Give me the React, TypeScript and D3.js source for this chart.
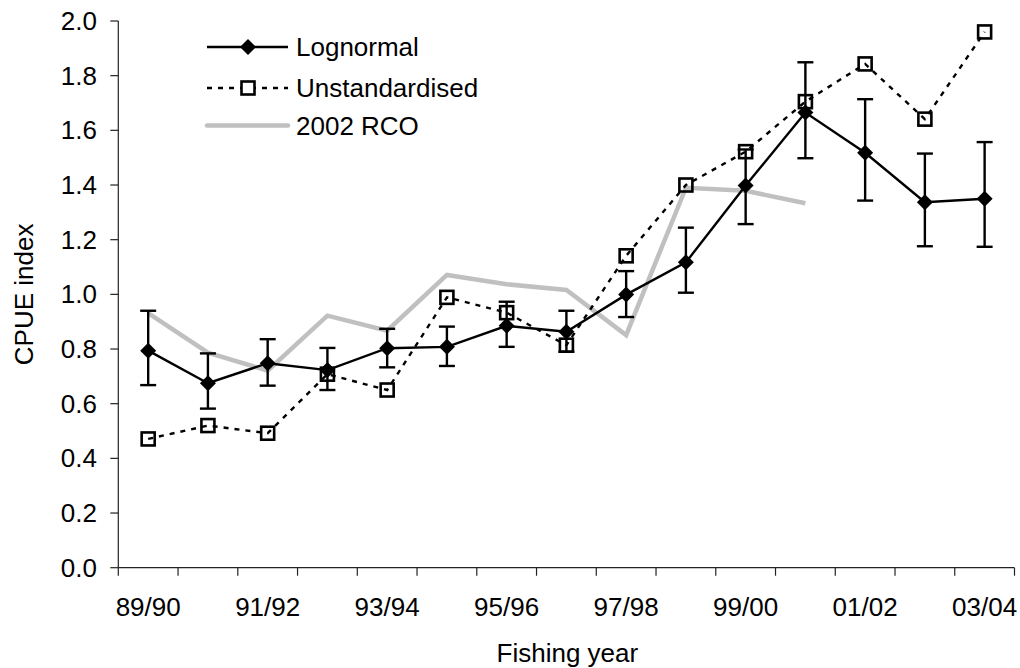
import React from "react";
import * as d3 from "d3";

const categories = ["89/90","90/91","91/92","92/93","93/94","94/95","95/96","96/97","97/98","98/99","99/00","00/01","01/02","02/03","03/04"];
const lognormal = [0.794,0.675,0.748,0.723,0.803,0.808,0.885,0.863,0.999,1.117,1.398,1.665,1.518,1.337,1.350];
const lognormalLower = [0.668,0.582,0.666,0.650,0.733,0.738,0.808,0.790,0.917,1.006,1.257,1.498,1.343,1.176,1.174];
const lognormalUpper = [0.940,0.784,0.836,0.804,0.874,0.882,0.973,0.940,1.085,1.244,1.530,1.849,1.714,1.515,1.557];
const unstandardised = [0.471,0.520,0.492,0.708,0.650,0.989,0.933,0.814,1.141,1.400,1.522,1.705,1.843,1.641,1.960];
const rco2002 = [0.931,0.787,0.721,0.922,0.867,1.071,1.037,1.016,0.851,1.390,1.379,1.333];
const yTicks = [0,0.2,0.4,0.6,0.8,1.0,1.2,1.4,1.6,1.8,2.0];
const legendLabels = ["Lognormal","Unstandardised","2002 RCO"];

const FONT = "'Liberation Sans', Arial, sans-serif";

export default function App() {
  const x = d3.scaleBand<string>().domain(categories).range([118.3, 1014.5]).padding(0);
  const y = d3.scaleLinear().domain([0, 2]).range([567.7, 21]);
  const cx = (i: number) => (x(categories[i]) as number) + x.bandwidth() / 2;

  const lineGen = d3.line<number>().x((_, i) => cx(i)).y((d) => y(d));
  const diamond = (px: number, py: number, r = 8) => `M${px},${py - r}L${px + r},${py}L${px},${py + r}L${px - r},${py}Z`;

  const boundaries = categories.map((c) => x(c) as number).concat([x.range()[1]]);
  const x0 = x.range()[0];
  const x1 = x.range()[1];
  const yb = y(0);

  const legY = [47, 88, 125.5];
  const legX0 = 207, legX1 = 288, legMid = 248, legText = 296;
  const LW = 2.4;

  return (
    <svg width={1020} height={668} style={{ position: "absolute", left: 0, top: 0, background: "#fff" }} fontFamily={FONT}>
      <rect x={0} y={0} width={1020} height={668} fill="#fff" />
      {/* axes */}
      <line x1={x0} x2={x0} y1={y(2)} y2={yb} stroke="#222" strokeWidth={1.2} />
      <line x1={x0} x2={x1} y1={yb} y2={yb} stroke="#222" strokeWidth={1.2} />
      {yTicks.map((t) => (
        <g key={t}>
          <line x1={x0 - 8} x2={x0} y1={y(t)} y2={y(t)} stroke="#222" strokeWidth={1.2} />
          <text x={97} y={y(t)} dy="0.35em" textAnchor="end" fontSize={26} fill="#000">{t.toFixed(1)}</text>
        </g>
      ))}
      {boundaries.map((b, i) => (
        <line key={i} x1={b} x2={b} y1={yb} y2={yb + 8} stroke="#222" strokeWidth={1.2} />
      ))}
      {categories.map((c, i) => i % 2 === 0 ? (
        <text key={c} x={cx(i)} y={616} textAnchor="middle" fontSize={26} fill="#000">{c}</text>
      ) : null)}
      <text x={(x0 + x1) / 2 + 1} y={662} textAnchor="middle" fontSize={26} fill="#000">Fishing year</text>
      <text transform={`translate(33,${(y(2) + yb) / 2}) rotate(-90)`} textAnchor="middle" fontSize={26} fill="#000">CPUE index</text>

      {/* series lines */}
      <path d={lineGen(rco2002) || ""} fill="none" stroke="#c0c0c0" strokeWidth={4.5} strokeLinejoin="miter" />
      <path d={lineGen(unstandardised) || ""} fill="none" stroke="#000" strokeWidth={LW} strokeDasharray="5,6" />
      <path d={lineGen(lognormal) || ""} fill="none" stroke="#000" strokeWidth={LW} />

      {/* error bars */}
      {lognormal.map((_, i) => (
        <g key={i} stroke="#000" strokeWidth={LW}>
          <line x1={cx(i)} x2={cx(i)} y1={y(lognormalLower[i])} y2={y(lognormalUpper[i])} />
          <line x1={cx(i) - 8} x2={cx(i) + 8} y1={y(lognormalLower[i])} y2={y(lognormalLower[i])} />
          <line x1={cx(i) - 8} x2={cx(i) + 8} y1={y(lognormalUpper[i])} y2={y(lognormalUpper[i])} />
        </g>
      ))}

      {/* markers */}
      {unstandardised.map((v, i) => (
        <rect key={i} x={cx(i) - 6.5} y={y(v) - 6.5} width={13} height={13} fill="none" stroke="#000" strokeWidth={2.6} />
      ))}
      {lognormal.map((v, i) => (
        <path key={i} d={diamond(cx(i), y(v))} fill="#000" />
      ))}

      {/* legend */}
      <line x1={legX0} x2={legX1} y1={legY[0]} y2={legY[0]} stroke="#000" strokeWidth={LW} />
      <path d={diamond(legMid, legY[0])} fill="#000" />
      <line x1={legX0} x2={legX1} y1={legY[1]} y2={legY[1]} stroke="#000" strokeWidth={LW} strokeDasharray="5,6" />
      <rect x={legMid - 6.5} y={legY[1] - 6.5} width={13} height={13} fill="#fff" stroke="#000" strokeWidth={2.6} />
      <line x1={legX0} x2={legX1} y1={legY[2]} y2={legY[2]} stroke="#c0c0c0" strokeWidth={4.5} strokeLinecap="round" />
      {legendLabels.map((l, i) => (
        <text key={l} x={legText} y={legY[i]} dy="0.35em" fontSize={26} fill="#000">{l}</text>
      ))}
    </svg>
  );
}
